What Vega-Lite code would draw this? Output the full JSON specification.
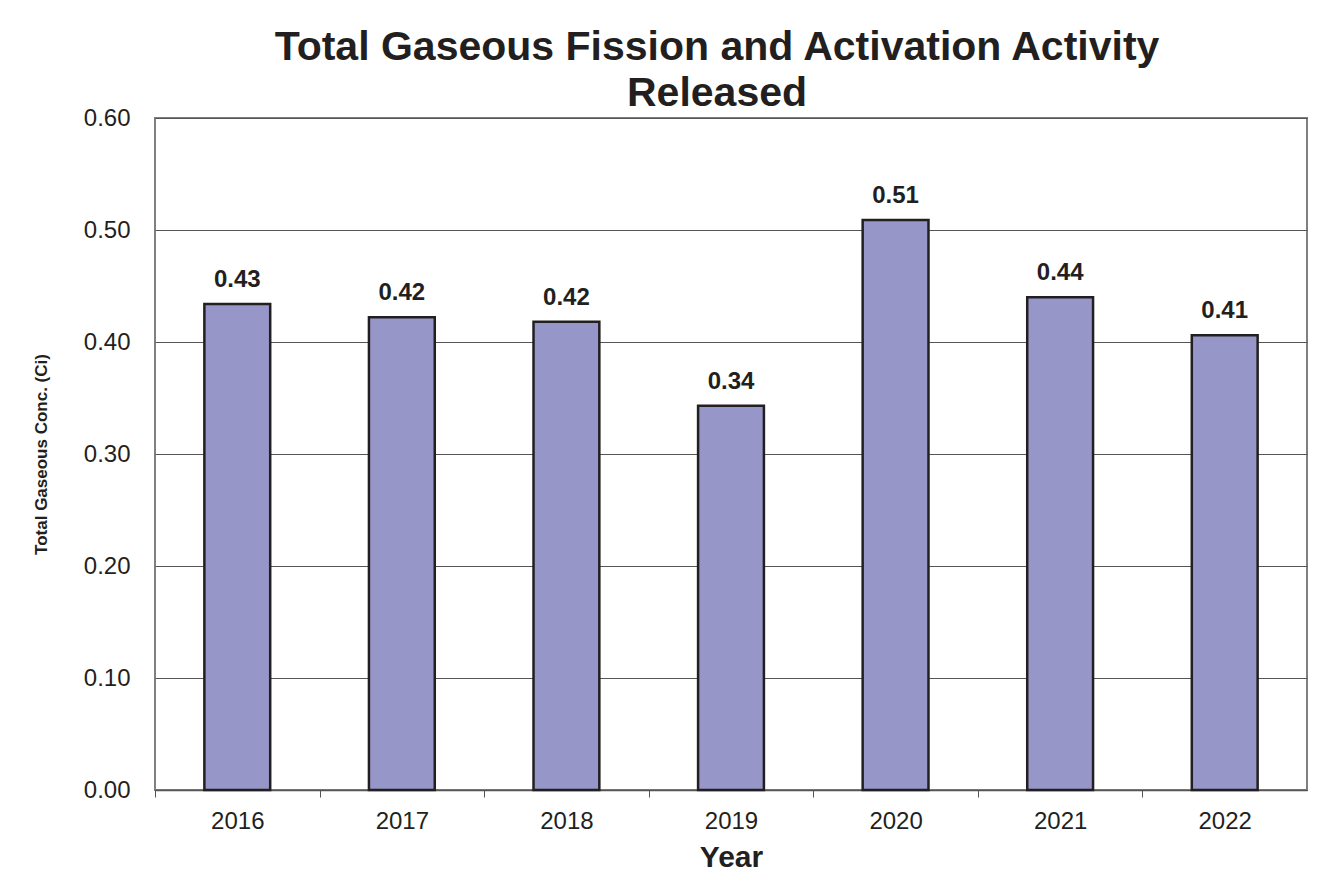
{
  "$schema": "https://vega.github.io/schema/vega-lite/v6.json",
  "autosize": "none",
  "width": 1152,
  "height": 672,
  "padding": {"left": 155, "top": 118, "right": 10, "bottom": 100},
  "background": "white",
  "title": {
    "text": ["Total Gaseous Fission and Activation Activity", "Released"],
    "font": "Liberation Sans",
    "fontSize": 41,
    "fontWeight": "bold",
    "color": "#231f20",
    "anchor": "middle",
    "dx": -14,
    "dy": 21,
    "offset": 12,
    "lineHeight": 46
  },
  "config": {
    "view": {"stroke": "#808080", "strokeWidth": 2},
    "axis": {"labelFont": "Liberation Sans", "titleFont": "Liberation Sans", "labelColor": "#231f20", "titleColor": "#231f20"}
  },
  "data": {
    "values": [
      {"year": "2016", "value": 0.434, "label": "0.43"},
      {"year": "2017", "value": 0.422, "label": "0.42"},
      {"year": "2018", "value": 0.418, "label": "0.42"},
      {"year": "2019", "value": 0.343, "label": "0.34"},
      {"year": "2020", "value": 0.509, "label": "0.51"},
      {"year": "2021", "value": 0.440, "label": "0.44"},
      {"year": "2022", "value": 0.406, "label": "0.41"}
    ]
  },
  "encoding": {
    "x": {
      "field": "year",
      "type": "ordinal",
      "scale": {"paddingInner": 0.6, "paddingOuter": 0.3},
      "axis": {
        "title": "Year",
        "titleFontSize": 30,
        "titleFontWeight": "bold",
        "titlePadding": 9,
        "labelFontSize": 24,
        "labelAngle": 0,
        "labelPadding": 12,
        "bandPosition": 0.5,
        "tickOffset": -82.3,
        "labelOffset": 82.3,
        "tickSize": 7,
        "tickColor": "#555555",
        "domainColor": "#555555",
        "domainWidth": 1.5,
        "grid": false
      }
    },
    "y": {
      "field": "value",
      "type": "quantitative",
      "scale": {"domain": [0, 0.6]},
      "axis": {
        "title": "Total Gaseous Conc. (Ci)",
        "titleFontSize": 17,
        "titleFontWeight": "bold",
        "titlePadding": 33,
        "labelFontSize": 24,
        "labelPadding": 25,
        "format": ".2f",
        "values": [0, 0.1, 0.2, 0.3, 0.4, 0.5, 0.6],
        "labelOverlap": false,
        "ticks": false,
        "domain": false,
        "grid": true,
        "gridColor": "#555555",
        "gridWidth": 1.2,
        "gridOpacity": 1
      }
    }
  },
  "layer": [
    {
      "mark": {"type": "bar", "fill": "#9696c8", "stroke": "#231f20", "strokeWidth": 2.5}
    },
    {
      "mark": {"type": "text", "baseline": "alphabetic", "dy": -17, "font": "Liberation Sans", "fontSize": 24, "fontWeight": "bold", "color": "#231f20"},
      "encoding": {"text": {"field": "label"}}
    }
  ]
}
